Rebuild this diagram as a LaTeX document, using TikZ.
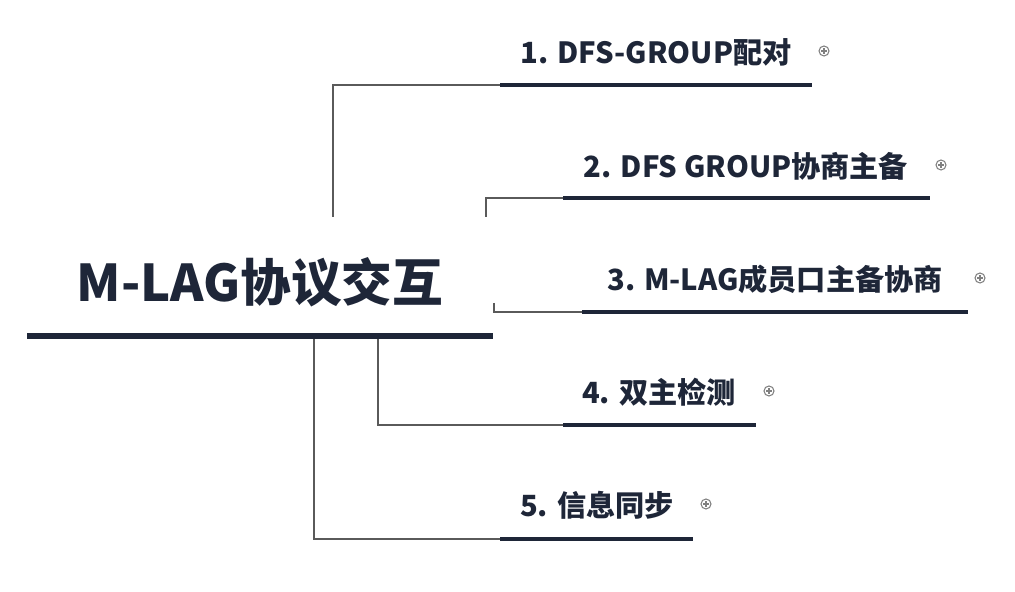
\documentclass[tikz,border=0pt]{standalone}
\usepackage{fontspec}
\setmainfont{Noto Sans CJK SC}
\definecolor{navy}{HTML}{1E2638}
\definecolor{linkgray}{HTML}{5A5A5A}
\begin{document}
\begin{tikzpicture}[x=0.01cm, y=-0.01cm, line cap=butt,
		topic/.style={text=navy, font=\fontsize{8.3}{10}\selectfont\bfseries, inner sep=0pt},
		rootline/.style={draw=navy, line width=1.7pt},
		topicline/.style={draw=navy, line width=1.15pt},
		link/.style={draw=linkgray, line width=0.35pt},
		expander/.style={circle, draw=gray, line width=0.3pt, minimum size=0.1cm, inner sep=0pt,
			path picture={\draw[gray, line width=0.3pt]
				([xshift=-0.03cm]path picture bounding box.center) -- ([xshift=0.03cm]path picture bounding box.center)
				([yshift=-0.03cm]path picture bounding box.center) -- ([yshift=0.03cm]path picture bounding box.center);}}]
	\useasboundingbox (0,0) rectangle (1015,592);
	% 中心主题
	\node[text=navy, font=\fontsize{14.4}{17}\selectfont\bfseries, inner sep=0pt] (root) at (260,282) {M-LAG协议交互};
	\coordinate (rootL) at (27,336);
	\coordinate (rootR) at (493,336);
	\draw[rootline] (rootL) -- (rootR);
	
	% 分支 1
	\node[topic] (t1) at (656,52) {1. DFS-GROUP配对};
	\node[expander] (p1) at (824,51) {};
	\coordinate (l1a) at (500,85); \coordinate (l1b) at (812,85);
	\draw[topicline] (l1a) -- (l1b);
	\coordinate (v1) at (333,217);
	\draw[link] (v1) |- (l1a);
	
	% 分支 2
	\node[topic] (t2) at (746,166) {2. DFS GROUP协商主备};
	\node[expander] (p2) at (941,165) {};
	\coordinate (l2a) at (563,198); \coordinate (l2b) at (930,198);
	\draw[topicline] (l2a) -- (l2b);
	\coordinate (v2) at (486,217);
	\draw[link] (v2) |- (l2a);
	
	% 分支 3
	\node[topic] (t3) at (775,279) {3. M-LAG成员口主备协商};
	\node[expander] (p3) at (980,278) {};
	\coordinate (l3a) at (582,312); \coordinate (l3b) at (968,312);
	\draw[topicline] (l3a) -- (l3b);
	\coordinate (v3) at (494,303);
	\draw[link] (v3) |- (l3a);
	
	% 分支 4
	\node[topic] (t4) at (659,392) {4. 双主检测};
	\node[expander] (p4) at (769,391) {};
	\coordinate (l4a) at (563,425); \coordinate (l4b) at (756,425);
	\draw[topicline] (l4a) -- (l4b);
	\coordinate (v4) at (378,339);
	\draw[link] (v4) |- (l4a);
	
	% 分支 5
	\node[topic] (t5) at (597,505) {5. 信息同步};
	\node[expander] (p5) at (706,504) {};
	\coordinate (l5a) at (500,539); \coordinate (l5b) at (693,539);
	\draw[topicline] (l5a) -- (l5b);
	\coordinate (v5) at (314,339);
	\draw[link] (v5) |- (l5a);
\end{tikzpicture}
\end{document}
